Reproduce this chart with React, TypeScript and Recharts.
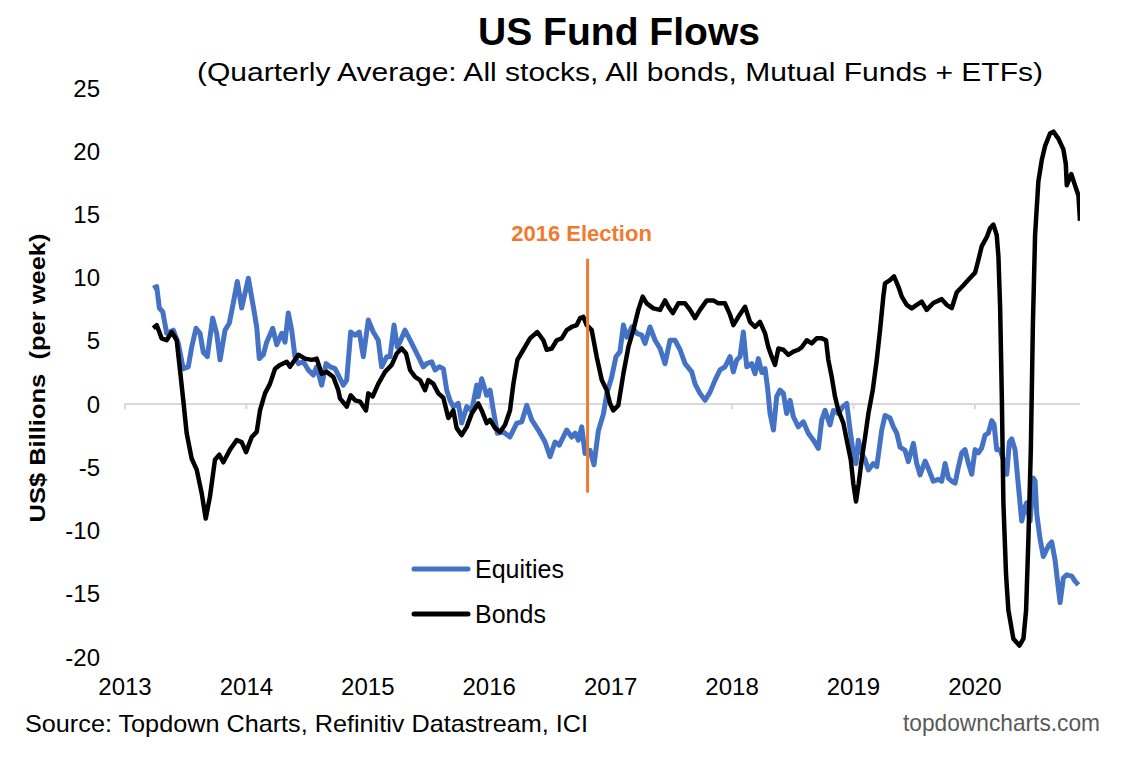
import React from "react";
import { LineChart, Line, XAxis, YAxis, ReferenceLine } from "recharts";

// [year, US$ bn per week]
const EQUITIES: [number, number][] = [
  [2013.233, 9.15], [2013.261, 9.3], [2013.283, 7.6], [2013.311, 7.3], [2013.343, 5.6], [2013.398, 5.85],
  [2013.439, 4.8], [2013.48, 2.8], [2013.521, 2.95], [2013.549, 4.5], [2013.585, 6.0], [2013.618, 5.6],
  [2013.645, 4.1], [2013.678, 3.75], [2013.722, 6.8], [2013.755, 5.6], [2013.783, 3.5], [2013.824, 5.85],
  [2013.859, 6.4], [2013.892, 8.0], [2013.925, 9.7], [2013.961, 7.6], [2014.016, 9.95], [2014.057, 7.7],
  [2014.085, 6.1], [2014.106, 3.6], [2014.139, 3.9], [2014.167, 4.9], [2014.217, 6.0], [2014.25, 4.7],
  [2014.291, 5.6], [2014.318, 4.9], [2014.345, 7.2], [2014.373, 5.85], [2014.4, 3.75], [2014.428, 3.2],
  [2014.469, 3.35], [2014.51, 2.7], [2014.551, 2.3], [2014.579, 2.95], [2014.62, 1.5], [2014.656, 3.2],
  [2014.689, 2.95], [2014.73, 2.8], [2014.757, 2.3], [2014.798, 1.5], [2014.826, 1.9], [2014.859, 5.7],
  [2014.895, 5.45], [2014.93, 5.7], [2014.963, 3.75], [2015.004, 6.65], [2015.045, 5.7], [2015.086, 5.05],
  [2015.114, 2.95], [2015.156, 3.75], [2015.183, 3.75], [2015.216, 6.25], [2015.243, 4.5], [2015.271, 5.05],
  [2015.306, 5.85], [2015.362, 4.8], [2015.416, 3.75], [2015.457, 2.95], [2015.485, 3.2], [2015.526, 3.35],
  [2015.554, 2.7], [2015.589, 2.95], [2015.622, 2.8], [2015.65, 1.1], [2015.677, 0.3], [2015.704, -0.2],
  [2015.745, 0.05], [2015.773, -1.5], [2015.815, -0.2], [2015.856, -0.5], [2015.897, 1.5], [2015.91, 0.6],
  [2015.938, 2.0], [2015.979, 0.7], [2016.007, 1.1], [2016.034, -0.5], [2016.067, -2.3], [2016.116, -2.2],
  [2016.171, -2.6], [2016.227, -1.5], [2016.268, -1.4], [2016.309, -0.1], [2016.35, -1.25], [2016.404, -2.05],
  [2016.46, -3.0], [2016.501, -4.15], [2016.542, -3.0], [2016.577, -3.25], [2016.638, -2.05], [2016.679, -2.6],
  [2016.707, -2.3], [2016.734, -2.85], [2016.762, -1.8], [2016.789, -3.9], [2016.83, -3.65], [2016.863, -4.8],
  [2016.899, -2.1], [2016.94, -0.8], [2016.97, 0.9], [2017.008, 2.1], [2017.044, 3.75], [2017.077, 4.15],
  [2017.105, 6.25], [2017.133, 5.3], [2017.174, 6.1], [2017.215, 5.6], [2017.256, 5.45], [2017.283, 4.8],
  [2017.324, 6.1], [2017.366, 5.05], [2017.407, 4.4], [2017.448, 3.2], [2017.489, 5.05], [2017.53, 5.05],
  [2017.572, 4.3], [2017.613, 3.2], [2017.668, 2.55], [2017.695, 1.6], [2017.736, 0.85], [2017.778, 0.3],
  [2017.819, 0.95], [2017.86, 1.9], [2017.901, 2.7], [2017.942, 2.95], [2017.984, 3.75], [2018.011, 2.55],
  [2018.039, 3.5], [2018.066, 3.75], [2018.093, 5.7], [2018.121, 2.95], [2018.162, 3.2], [2018.189, 2.4],
  [2018.217, 3.6], [2018.245, 2.5], [2018.272, 2.8], [2018.292, 1.35], [2018.313, -0.75], [2018.341, -2.05],
  [2018.368, 0.6], [2018.395, 1.1], [2018.423, 0.85], [2018.45, -0.75], [2018.478, 0.3], [2018.505, -1.0],
  [2018.546, -1.8], [2018.587, -1.4], [2018.628, -2.3], [2018.67, -2.85], [2018.711, -3.5], [2018.739, -1.25],
  [2018.766, -0.5], [2018.807, -1.65], [2018.835, -0.5], [2018.876, -0.75], [2018.912, -0.2], [2018.945, 0.05],
  [2018.972, -2.05], [2018.999, -3.9], [2019.021, -4.7], [2019.04, -2.85], [2019.068, -3.9], [2019.096, -4.4],
  [2019.123, -5.2], [2019.164, -4.7], [2019.192, -4.95], [2019.233, -2.05], [2019.26, -0.9], [2019.301, -1.1],
  [2019.329, -1.8], [2019.357, -2.3], [2019.384, -3.4], [2019.425, -3.65], [2019.452, -4.55], [2019.494, -3.1],
  [2019.521, -4.7], [2019.549, -5.6], [2019.59, -4.5], [2019.617, -5.1], [2019.658, -6.1], [2019.7, -5.95],
  [2019.727, -6.1], [2019.755, -4.7], [2019.782, -5.85], [2019.81, -6.1], [2019.837, -6.25], [2019.864, -5.0],
  [2019.892, -3.85], [2019.919, -3.6], [2019.947, -4.7], [2019.974, -5.55], [2020.002, -3.6], [2020.029, -3.85],
  [2020.057, -3.45], [2020.084, -2.45], [2020.111, -2.3], [2020.139, -1.3], [2020.158, -1.6], [2020.18, -3.6],
  [2020.208, -3.6], [2020.235, -4.4], [2020.263, -5.55], [2020.284, -3.0], [2020.304, -2.75], [2020.331, -3.6],
  [2020.358, -6.4], [2020.386, -9.25], [2020.414, -8.1], [2020.427, -7.8], [2020.455, -9.25], [2020.482, -5.85],
  [2020.496, -6.1], [2020.51, -8.7], [2020.537, -10.65], [2020.564, -12.05], [2020.606, -11.2], [2020.633, -10.9],
  [2020.661, -12.35], [2020.688, -14.6], [2020.702, -15.7], [2020.729, -13.75], [2020.757, -13.5], [2020.798, -13.6],
  [2020.825, -14.0], [2020.853, -14.3],
];

const BONDS: [number, number][] = [
  [2013.233, 6.0], [2013.261, 6.25], [2013.302, 5.2], [2013.343, 5.05], [2013.385, 5.7], [2013.426, 5.05],
  [2013.453, 2.7], [2013.48, 0.3], [2013.508, -2.3], [2013.549, -4.3], [2013.591, -5.2], [2013.632, -7.07],
  [2013.665, -9.05], [2013.7, -7.3], [2013.741, -4.4], [2013.777, -4.0], [2013.81, -4.6], [2013.865, -3.6],
  [2013.92, -2.85], [2013.961, -3.0], [2013.997, -3.8], [2014.044, -2.6], [2014.085, -2.2], [2014.112, -0.5],
  [2014.153, 0.85], [2014.194, 1.6], [2014.236, 2.8], [2014.277, 3.1], [2014.332, 3.35], [2014.359, 2.95],
  [2014.428, 3.9], [2014.483, 3.6], [2014.538, 3.5], [2014.579, 3.6], [2014.62, 2.4], [2014.661, 2.55],
  [2014.716, 2.15], [2014.757, 1.1], [2014.771, 0.45], [2014.826, -0.2], [2014.859, 0.7], [2014.895, 0.3],
  [2014.936, 0.2], [2014.985, -0.5], [2015.004, 0.85], [2015.04, 0.6], [2015.086, 1.6], [2015.142, 2.55],
  [2015.197, 3.1], [2015.238, 4.0], [2015.279, 4.4], [2015.315, 4.0], [2015.348, 2.7], [2015.389, 2.15],
  [2015.43, 1.9], [2015.471, 1.1], [2015.498, 1.9], [2015.54, 1.6], [2015.581, 0.85], [2015.622, 0.5],
  [2015.663, -1.1], [2015.704, -0.5], [2015.732, -1.9], [2015.773, -2.45], [2015.815, -1.8], [2015.856, -0.75],
  [2015.91, 0.05], [2015.938, -0.5], [2015.979, -1.5], [2016.007, -1.25], [2016.048, -1.9], [2016.089, -2.2],
  [2016.13, -1.65], [2016.171, -0.5], [2016.199, 1.6], [2016.232, 3.5], [2016.281, 4.3], [2016.336, 5.2],
  [2016.396, 5.7], [2016.446, 5.05], [2016.473, 4.3], [2016.515, 4.4], [2016.556, 5.05], [2016.597, 5.2],
  [2016.638, 5.85], [2016.679, 6.1], [2016.721, 6.25], [2016.748, 6.8], [2016.775, 6.9], [2016.803, 6.25],
  [2016.844, 5.85], [2016.885, 3.75], [2016.927, 1.9], [2016.968, 1.1], [2016.995, 0.05], [2017.022, -0.5],
  [2017.063, -0.1], [2017.105, 2.4], [2017.146, 4.5], [2017.187, 5.85], [2017.228, 7.45], [2017.264, 8.5],
  [2017.297, 7.97], [2017.352, 7.57], [2017.407, 7.45], [2017.448, 8.2], [2017.476, 7.7], [2017.512, 7.2],
  [2017.558, 7.97], [2017.613, 7.97], [2017.654, 7.45], [2017.695, 6.8], [2017.736, 7.45], [2017.792, 8.2],
  [2017.846, 8.2], [2017.887, 7.97], [2017.942, 7.97], [2017.984, 7.05], [2018.011, 6.25], [2018.052, 6.9],
  [2018.107, 7.7], [2018.148, 6.5], [2018.189, 6.1], [2018.23, 6.5], [2018.272, 5.6], [2018.299, 4.5],
  [2018.327, 3.75], [2018.354, 3.1], [2018.382, 4.4], [2018.423, 4.3], [2018.464, 3.9], [2018.505, 4.15],
  [2018.546, 4.3], [2018.574, 4.5], [2018.615, 5.05], [2018.656, 4.8], [2018.697, 5.2], [2018.739, 5.2],
  [2018.774, 5.05], [2018.793, 3.5], [2018.821, 2.15], [2018.848, 0.6], [2018.876, -0.5], [2018.917, -1.5],
  [2018.95, -3.1], [2018.978, -4.4], [2018.999, -6.3], [2019.021, -7.7], [2019.043, -6.3], [2019.068, -4.4],
  [2019.096, -2.6], [2019.123, -0.75], [2019.159, 1.1], [2019.192, 3.5], [2019.219, 5.85], [2019.246, 8.5],
  [2019.26, 9.55], [2019.301, 9.8], [2019.334, 10.1], [2019.37, 9.3], [2019.398, 8.5], [2019.439, 7.85],
  [2019.48, 7.57], [2019.521, 7.85], [2019.562, 8.1], [2019.603, 7.45], [2019.658, 8.0], [2019.727, 8.3],
  [2019.768, 7.85], [2019.81, 7.6], [2019.851, 8.85], [2019.906, 9.4], [2019.96, 9.97], [2020.002, 10.4],
  [2020.029, 11.4], [2020.057, 12.5], [2020.098, 13.2], [2020.125, 13.9], [2020.153, 14.2], [2020.18, 13.37],
  [2020.194, 11.7], [2020.208, 7.7], [2020.222, 0.65], [2020.235, -7.8], [2020.257, -13.5], [2020.276, -16.3],
  [2020.317, -18.55], [2020.367, -19.1], [2020.4, -18.55], [2020.422, -16.3], [2020.441, -10.65], [2020.461, -3.6],
  [2020.478, 6.3], [2020.496, 13.37], [2020.523, 17.6], [2020.551, 19.3], [2020.578, 20.4], [2020.619, 21.4],
  [2020.647, 21.55], [2020.688, 21.0], [2020.729, 20.15], [2020.749, 19.0], [2020.757, 17.3], [2020.794, 18.2],
  [2020.825, 17.3], [2020.853, 16.5], [2020.866, 14.5],
];

const YEARS = [2013, 2014, 2015, 2016, 2017, 2018, 2019, 2020];
const Y_TICKS = [-20, -15, -10, -5, 0, 5, 10, 15, 20, 25];
const ELECTION = { t: 2016.81, from: -7, to: 11.5, label: "2016 Election" };

const FONT = "'Liberation Sans', Arial, sans-serif";
const BLUE = "#4472C4";
const ORANGE = "#EE7B30";

const toRows = (pts: [number, number][]) => pts.map(([t, v]) => ({ t, v }));

export default function App() {
  const equities = toRows(EQUITIES);
  const bonds = toRows(BONDS);

  return (
    <div style={{ position: "absolute", left: 0, top: 0, width: 1140, height: 779, background: "#fff", fontFamily: FONT }}>
      <LineChart width={1140} height={779} margin={{ top: 88, right: 60, bottom: 92, left: 65 }}>
        <XAxis
          dataKey="t"
          type="number"
          domain={[2013, 2020.866]}
          ticks={YEARS}
          allowDataOverflow
          axisLine={false}
          tickLine={false}
          tickSize={0}
          tickMargin={21}
          height={30}
          tick={{ fill: "#000", fontSize: 24, fontFamily: FONT }}
        />
        <YAxis
          type="number"
          domain={[-20, 25]}
          ticks={Y_TICKS}
          axisLine={false}
          tickLine={false}
          tickSize={0}
          tickMargin={25}
          width={60}
          tick={{ fill: "#000", fontSize: 24, fontFamily: FONT }}
        />
        <ReferenceLine y={0} stroke="#D9D9D9" strokeWidth={2} />
        {YEARS.map((yr) => (
          <ReferenceLine
            key={yr}
            segment={[{ x: yr, y: 0 }, { x: yr, y: -0.4 }]}
            stroke="#D9D9D9"
            strokeWidth={2}
          />
        ))}
        <Line
          data={equities}
          dataKey="v"
          name="Equities"
          stroke={BLUE}
          strokeWidth={5}
          dot={false}
          activeDot={false}
          strokeLinejoin="round"
          isAnimationActive={false}
        />
        <Line
          data={bonds}
          dataKey="v"
          name="Bonds"
          stroke="#000"
          strokeWidth={4.5}
          dot={false}
          activeDot={false}
          strokeLinejoin="round"
          isAnimationActive={false}
        />
        <ReferenceLine
          segment={[{ x: ELECTION.t, y: ELECTION.from }, { x: ELECTION.t, y: ELECTION.to }]}
          stroke={ORANGE}
          strokeWidth={3}
          label={{
            value: ELECTION.label,
            position: "top",
            offset: 18,
            fill: ORANGE,
            fontSize: 22,
            fontWeight: "bold",
            fontFamily: FONT,
            dx: -6,
          }}
        />
      </LineChart>

      <svg width={1140} height={779} style={{ position: "absolute", left: 0, top: 0, pointerEvents: "none" }}>
        <text x={619} y={45} textAnchor="middle" fontSize={38} fontWeight="bold" textLength={282} lengthAdjust="spacingAndGlyphs">
          US Fund Flows
        </text>
        <text x={620} y={81} textAnchor="middle" fontSize={26} textLength={846} lengthAdjust="spacingAndGlyphs">
          (Quarterly Average: All stocks, All bonds, Mutual Funds + ETFs)
        </text>
        <text
          transform="translate(45,378) rotate(-90)"
          textAnchor="middle"
          fontSize={22}
          fontWeight="bold"
          textLength={289}
          lengthAdjust="spacingAndGlyphs"
        >
          {"US$ Billions\u00a0 (per week)"}
        </text>

        <line x1={414} x2={468} y1={569} y2={569} stroke={BLUE} strokeWidth={5} strokeLinecap="round" />
        <text x={475} y={578} fontSize={25}>Equities</text>
        <line x1={414} x2={468} y1={614} y2={614} stroke="#000" strokeWidth={5} strokeLinecap="round" />
        <text x={475} y={623} fontSize={25}>Bonds</text>

        <text x={25} y={732} fontSize={24} textLength={563} lengthAdjust="spacingAndGlyphs">
          Source: Topdown Charts, Refinitiv Datastream, ICI
        </text>
        <text x={1100} y={731} textAnchor="end" fontSize={24} fill="#595959" textLength={197} lengthAdjust="spacingAndGlyphs">
          topdowncharts.com
        </text>
      </svg>
    </div>
  );
}
